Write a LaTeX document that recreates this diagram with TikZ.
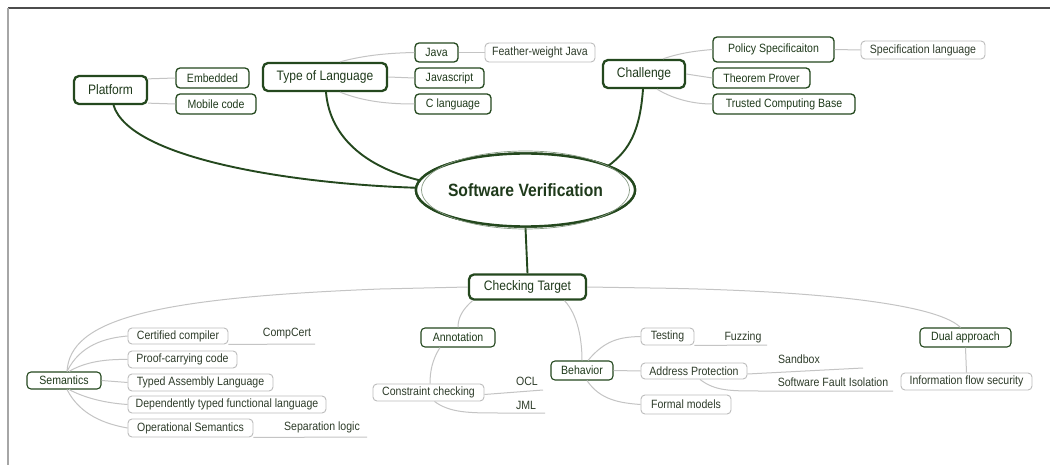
\documentclass[tikz,border=0pt]{standalone}
\usepackage{fontspec}
\setmainfont{Liberation Sans}[FakeStretch=0.88]
\usetikzlibrary{shapes.geometric}
\definecolor{dkg}{HTML}{24481E}
\definecolor{txt}{HTML}{1F3A1B}
\definecolor{ltxt}{HTML}{2F3D2B}
\definecolor{ltb}{HTML}{BDBDBD}
\definecolor{cn}{HTML}{C4C4C4}
\tikzset{
  base/.style={inner sep=0pt, fill=white, align=center},
  lone/.style={base, draw=dkg, line width=2.3pt, rounded corners=5pt, text=txt,
    font=\fontsize{13.7}{15}\selectfont, minimum height=28pt},
  ltwo/.style={base, draw=dkg, line width=1.3pt, rounded corners=4pt, text=txt,
    font=\fontsize{12}{14}\selectfont, minimum height=20pt},
  lthree/.style={base, draw=ltb, line width=0.9pt, rounded corners=4pt, text=ltxt,
    font=\fontsize{12}{14}\selectfont, minimum height=17pt},
  leaf/.style={inner sep=0pt, text=ltxt, font=\fontsize{12}{14}\selectfont},
  conn/.style={draw=cn, line width=1pt},
  thk/.style={draw=dkg, line width=1.9pt},
  svstyle/.style={ellipse, draw=dkg, line width=2.4pt,
    fill=white, minimum width=203pt, minimum height=73pt, inner sep=0pt, text=txt,
    font=\fontsize{17.8}{20}\selectfont\bfseries},
  svring/.style={ellipse, draw=dkg!55, line width=0.7pt,
    minimum width=208pt, minimum height=78pt, inner sep=0pt},
}
\begin{document}
\begin{tikzpicture}[x=1pt,y=-1pt]
\useasboundingbox (0,0) rectangle (1050,465);
\fill[white] (0,0) rectangle (1050,465);
% frame
\draw[draw=black!70, line width=1.3pt] (8,8) -- (1050,8);
\draw[draw=black!35, line width=1.5pt] (8,8) -- (8,465);

% ---- top level-1 nodes
\node[lone, minimum width=73pt] (plat) at (110.5,90) {Platform};
\node[lone, minimum width=124pt] (tol) at (325,77) {Type of Language};
\node[lone, minimum width=82pt] (chal) at (644,74) {Challenge};

% platform children
\node[ltwo, minimum width=73pt] (emb) at (212.5,78) {Embedded};
\node[ltwo, minimum width=80pt] (mob) at (216,104) {Mobile code};
% type of language children
\node[ltwo, minimum width=43pt, minimum height=19pt] (java) at (436.5,52.5) {Java};
\node[lthree, minimum width=110pt, minimum height=19pt] (fwj) at (540,52.5) {Feather-weight Java};
\node[ltwo, minimum width=69pt] (jsc) at (449.5,78) {Javascript};
\node[ltwo, minimum width=76pt] (cl) at (453,104) {C language};
% challenge children
\node[ltwo, minimum width=121pt, minimum height=25pt] (pol) at (773.5,49.5) {Policy Specificaiton};
\node[lthree, minimum width=124pt, minimum height=18pt] (spl) at (923,50) {Specification language};
\node[ltwo, minimum width=97pt] (thp) at (761.5,78) {Theorem Prover};
\node[ltwo, minimum width=142pt] (tcb) at (784,104) {Trusted Computing Base};

% centre
\node[svstyle] (sv) at (525.5,190) {Software Verification};
\node[lone, minimum width=117pt, minimum height=25pt] (ct) at (527.5,287) {Checking Target};

% top connectors
\draw[conn] ([yshift=-4pt]plat.north east) -- (emb.west);
\draw[conn] ([yshift=2pt]plat.south east) -- (mob.west);
\draw[conn] ([xshift=15pt]tol.north) .. controls (365,55) and (390,53) .. (java.west);
\draw[conn] (tol.east) -- (jsc.west);
\draw[conn] ([xshift=15pt]tol.south) .. controls (365,102) and (390,104) .. (cl.west);
\draw[conn] (java.east) -- (fwj.west);
\draw[conn] ([xshift=19pt]chal.north) .. controls (680,53) and (695,51) .. (pol.west);
\draw[conn] (chal.east) -- (thp.west);
\draw[conn] ([xshift=13pt]chal.south) .. controls (675,100) and (695,104) .. (tcb.west);
\draw[conn] (pol.east) -- (spl.west);

% thick connectors
\coordinate (svA) at (425,188);
\coordinate (svB) at (427,182);
\coordinate (svC) at (608,166);
\draw[thk] ([xshift=3pt]plat.south) .. controls (130,160) and (300,185) .. (svA);
\draw[thk] ([xshift=1pt]tol.south) .. controls (330,140) and (370,170) .. (svB);
\draw[thk] ([xshift=-1pt]chal.south) .. controls (640,130) and (630,150) .. (svC);
\draw[thk] (sv.south) -- (ct.north);
\node[svstyle] (sv2) at (sv) {Software Verification};
\node[svring] (svr) at (sv) {};

% ---- bottom
\node[ltwo, line width=1.1pt, minimum width=74pt, minimum height=17pt] (sem) at (64,380.5) {Semantics};
\node[lthree, minimum width=100pt, minimum height=16pt] (cc) at (178,336) {Certified compiler};
\node[leaf] (compc) at (287,334) {CompCert};
\coordinate (ccEnd) at (315,344);
\node[lthree, minimum width=109pt] (pcc) at (182.5,359.5) {Proof-carrying code};
\node[lthree, minimum width=145pt] (tal) at (200.5,382.5) {Typed Assembly Language};
\node[lthree, minimum width=198pt] (dtf) at (227,404.5) {Dependently typed functional language};
\node[lthree, minimum width=125pt, minimum height=18pt] (ops) at (190.5,428) {Operational Semantics};
\node[leaf] (sepl) at (322,427) {Separation logic};
\coordinate (opsEnd) at (367,437);

\node[ltwo, line width=1.1pt, minimum width=74pt, minimum height=19pt] (ann) at (458,337.5) {Annotation};
\node[lthree, minimum width=111pt] (coc) at (428.5,392.5) {Constraint checking};
\node[leaf] (ocl) at (527,381) {OCL};
\coordinate (oclEnd) at (543,390);
\node[leaf] (jml) at (526,405) {JML};
\coordinate (jmlEnd) at (545,413);

\node[ltwo, line width=1.1pt, minimum width=62pt, minimum height=19pt] (beh) at (582,370.5) {Behavior};
\node[lthree, minimum width=53pt] (tst) at (667.5,336.5) {Testing};
\node[leaf] (fuz) at (743,337) {Fuzzing};
\coordinate (fuzEnd) at (767,345);
\node[lthree, minimum width=106pt, minimum height=16pt] (adp) at (694,371) {Address Protection};
\node[leaf] (sbx) at (799,359) {Sandbox};
\coordinate (sbxEnd) at (863,368);
\node[leaf] (sfi) at (833,382) {Software Fault Isolation};
\coordinate (sfiEnd) at (893,391);
\node[lthree, minimum width=90pt, minimum height=19pt] (fm) at (686,404.5) {Formal models};

\node[ltwo, line width=1.1pt, minimum width=91pt, minimum height=19pt] (dua) at (965.5,337.5) {Dual approach};
\node[lthree, minimum width=131pt] (ifs) at (966.5,381.5) {Information flow security};

% bottom connectors
\draw[conn] (ct.west) -- (380,289) .. controls (150,298) and (70,320) .. ([xshift=3pt]sem.north);
\draw[conn] ([xshift=3pt]sem.north) .. controls (80,345) and (105,338) .. (cc.west);
\draw[conn] ([xshift=5pt]sem.north) .. controls (85,362) and (105,359) .. (pcc.west);
\draw[conn] (sem.east) -- (tal.west);
\draw[conn] ([xshift=5pt]sem.south) .. controls (85,398) and (105,403) .. (dtf.west);
\draw[conn] ([xshift=3pt]sem.south) .. controls (80,415) and (105,424) .. (ops.west);
\draw[conn] (cc.south east) -- (ccEnd);
\draw[conn] (ops.south east) -- (opsEnd);

\draw[conn] ([xshift=-55pt]ct.south) .. controls (462,310) and (458,318) .. (ann.north);
\draw[conn] ([xshift=-18pt]ann.south) .. controls (432,360) and (430,372) .. ([xshift=1.5pt]coc.north);
\draw[conn] ([yshift=-2pt]coc.east) -- (oclEnd);
\draw[conn] ([xshift=6pt]coc.south) .. controls (450,413) and (470,413) .. (500,413) -- (jmlEnd);

\draw[conn] ([xshift=37pt]ct.south) .. controls (578,315) and (582,340) .. (beh.north);
\draw[conn] ([xshift=6pt]beh.north) .. controls (605,340) and (620,337) .. (tst.west);
\draw[conn] (beh.east) -- (adp.west);
\draw[conn] ([xshift=5pt]beh.south) .. controls (600,400) and (620,403) .. (fm.west);
\draw[conn] (tst.south east) -- (fuzEnd);
\draw[conn] ([yshift=-3pt]adp.east) -- (sbxEnd);
\draw[conn] ([xshift=6pt]adp.south) .. controls (715,391) and (730,391) .. (760,391) -- (sfiEnd);

\draw[conn] (ct.east) -- (650,288) .. controls (800,290) and (935,302) .. ([xshift=-5pt]dua.north);
\draw[conn] (dua.south) -- (ifs.north);
\end{tikzpicture}
\end{document}
